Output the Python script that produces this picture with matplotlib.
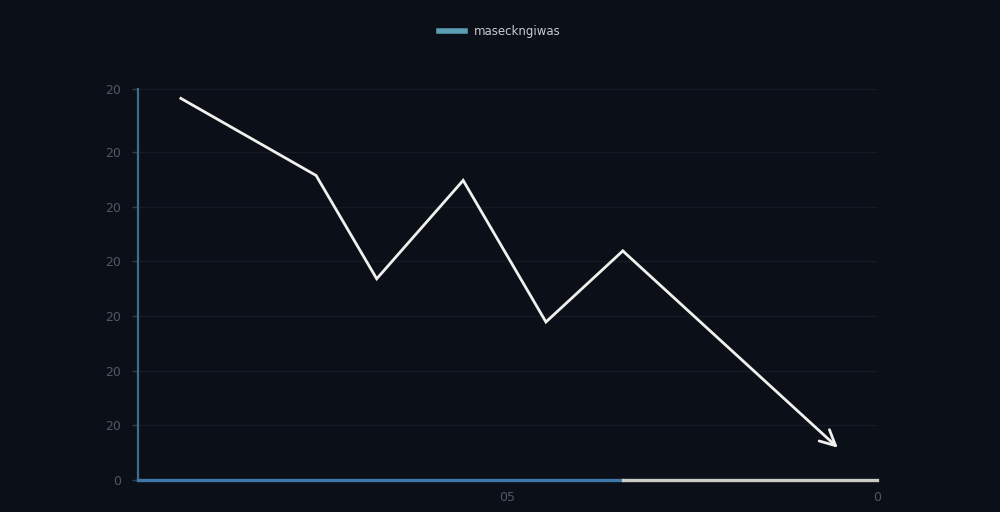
import matplotlib
matplotlib.use("Agg")
import matplotlib.pyplot as plt
from matplotlib.lines import Line2D

# data
x_vals = [0.58, 2.41, 3.23, 4.40, 5.52, 6.56, 9.47]
y_vals = [6.98, 5.57, 3.68, 5.48, 2.89, 4.19, 0.59]
y_ticks = [0, 1, 2, 3, 4, 5, 6, 7.15]
y_labels = ["0", "20", "20", "20", "20", "20", "20", "20"]
x_ticks = [5, 10]
x_labels = ["05", "0"]
legend_label = "maseckngiwas"

bg = "#0b0f17"
fig = plt.figure(figsize=(10, 5.12), dpi=100, facecolor=bg)
ax = fig.add_axes([0.138, 0.0625, 0.739, 0.7635])
ax.set_facecolor(bg)

ax.set_xlim(0, 10)
ax.set_ylim(0, 7.15)

# line (all but last segment) and arrow for last
ax.plot(x_vals[:-1], y_vals[:-1], color="#f0f0ee", lw=2.0, solid_joinstyle="miter", zorder=5)
ax.annotate("", xy=(x_vals[-1], y_vals[-1]), xytext=(x_vals[-2], y_vals[-2]),
            arrowprops=dict(arrowstyle="->,head_length=1.1,head_width=0.55", color="#f0f0ee", lw=2.0,
                            shrinkA=0, shrinkB=0), zorder=5)

# grid
ax.set_yticks(y_ticks)
ax.set_yticklabels(y_labels)
ax.set_xticks(x_ticks)
ax.set_xticklabels(x_labels)
ax.grid(axis="y", color="#141b26", lw=0.9)
ax.grid(axis="x", visible=False)

for s in ["top", "right", "bottom"]:
    ax.spines[s].set_visible(False)
ax.spines["left"].set_color("#3b6c8f")
ax.spines["left"].set_linewidth(1.6)

split = (x_vals[-2] - 0) / 10.0
ax.axhline(0, xmin=0, xmax=split, color="#3f78a8", lw=2.4, zorder=6, clip_on=False)
ax.axhline(0, xmin=split, xmax=1, color="#c9cbc4", lw=2.4, zorder=6, clip_on=False)

ax.tick_params(axis="y", colors="#2e3d4d", labelcolor="#4f5864", labelsize=9, length=4, width=1, pad=8)
ax.tick_params(axis="x", length=0, labelcolor="#4f5864", labelsize=9, pad=8)

handle = Line2D([0], [0], color="#5b9db3", lw=4)
fig.legend([handle], [legend_label], loc="center", bbox_to_anchor=(0.5, 0.938),
           frameon=False, labelcolor="#c8ccd0", fontsize=8.5, handlelength=2.2, handletextpad=0.8)

fig.savefig("out.png", dpi=100, facecolor=bg)
